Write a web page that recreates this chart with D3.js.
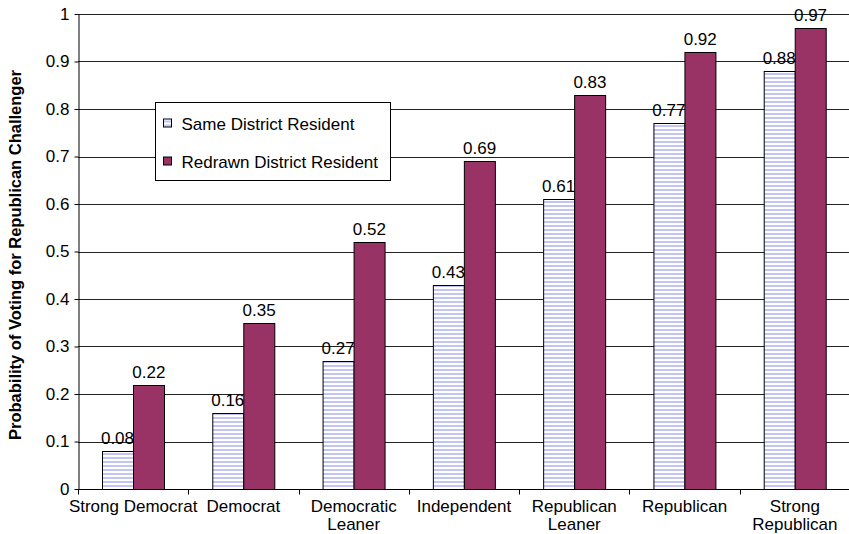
<!DOCTYPE html>
<html>
<head>
<meta charset="utf-8">
<script src="https://cdn.jsdelivr.net/npm/d3@7"></script>
<style>
  body { margin: 0; background: #fff; }
  svg { font-family: "Liberation Sans", Arial, sans-serif; }
</style>
</head>
<body>
<div id="chart"></div>
<script>
const categories = [["Strong Democrat"], ["Democrat"], ["Democratic", "Leaner"], ["Independent"],
  ["Republican", "Leaner"], ["Republican"], ["Strong", "Republican"]];
const sameDistrict = [0.08, 0.16, 0.27, 0.43, 0.61, 0.77, 0.88];
const redrawnDistrict = [0.22, 0.35, 0.52, 0.69, 0.83, 0.92, 0.97];
const seriesNames = ["Same District Resident", "Redrawn District Resident"];
const yTicks = [0, 0.1, 0.2, 0.3, 0.4, 0.5, 0.6, 0.7, 0.8, 0.9, 1];

const width = 849, height = 534;
const margin = { top: 14, right: -1, bottom: 45, left: 78 };
const fontSize = 17;

const svg = d3.select("#chart").append("svg")
  .attr("width", width).attr("height", height);

// striped fill for the first series
const defs = svg.append("defs");
const pat = defs.append("pattern")
  .attr("id", "stripes").attr("patternUnits", "userSpaceOnUse")
  .attr("width", 8).attr("height", 4);
pat.append("rect").attr("width", 8).attr("height", 4).attr("fill", "#fff");
pat.append("rect").attr("y", 1).attr("width", 8).attr("height", 2).attr("fill", "#c2c4f6");

const x = d3.scaleBand()
  .domain(d3.range(categories.length))
  .range([margin.left, width - margin.right]);

const x1 = d3.scaleBand()
  .domain([0, 1])
  .range([0, x.bandwidth()])
  .paddingInner(0)
  .paddingOuter(0.76);

const y = d3.scaleLinear().domain([0, 1]).range([height - margin.bottom, margin.top]);

// gridlines
svg.append("g").selectAll("line")
  .data(yTicks.slice(1))
  .join("line")
  .attr("x1", margin.left).attr("x2", width)
  .attr("y1", d => Math.round(y(d)) + 0.5).attr("y2", d => Math.round(y(d)) + 0.5)
  .attr("stroke", "#222").attr("stroke-width", 1);

// y axis
const yAxis = svg.append("g")
  .attr("transform", `translate(${margin.left + 0.5},0)`)
  .call(d3.axisLeft(y).tickValues(yTicks).tickFormat(d3.format("")).tickSize(4).tickSizeOuter(0));
yAxis.select(".domain").attr("stroke", "#000");
yAxis.selectAll(".tick line").attr("stroke", "#000");
yAxis.selectAll(".tick text").attr("font-size", fontSize).attr("fill", "#000")
  .attr("font-family", "Liberation Sans, Arial, sans-serif").attr("dx", -2);

// bars
const data = categories.map((c, i) => [sameDistrict[i], redrawnDistrict[i]]);
const groups = svg.append("g").selectAll("g")
  .data(data)
  .join("g")
  .attr("transform", (d, i) => `translate(${x(i)},0)`);

groups.selectAll("rect")
  .data(d => d)
  .join("rect")
  .attr("x", (d, j) => Math.round(x1(j)) + 0.5)
  .attr("y", d => Math.round(y(d)) + 0.5)
  .attr("width", Math.round(x1.bandwidth()))
  .attr("height", d => Math.round(y(0)) - Math.round(y(d)))
  .attr("fill", (d, j) => j === 0 ? "url(#stripes)" : "#993366")
  .attr("stroke", "#000").attr("stroke-width", 1);

groups.selectAll("text.val")
  .data(d => d)
  .join("text")
  .attr("class", "val")
  .attr("x", (d, j) => x1(j) + x1.bandwidth() / 2)
  .attr("y", d => y(d) - 7)
  .attr("text-anchor", "middle")
  .attr("font-size", fontSize)
  .text(d => d3.format(".2f")(d));

// x axis
const xAxisY = Math.round(y(0)) + 0.5;
svg.append("line")
  .attr("x1", margin.left).attr("x2", width)
  .attr("y1", xAxisY).attr("y2", xAxisY).attr("stroke", "#000");
svg.append("g").selectAll("line")
  .data(d3.range(categories.length))
  .join("line")
  .attr("x1", i => Math.round(x(i)) + 0.5).attr("x2", i => Math.round(x(i)) + 0.5)
  .attr("y1", xAxisY).attr("y2", xAxisY + 5).attr("stroke", "#000");

svg.append("g").selectAll("text")
  .data(categories)
  .join("text")
  .attr("x", (d, i) => x(i) + x.bandwidth() / 2)
  .attr("y", 512)
  .attr("text-anchor", "middle")
  .attr("font-size", fontSize)
  .selectAll("tspan")
  .data(d => d)
  .join("tspan")
  .attr("x", function () { return d3.select(this.parentNode).attr("x"); })
  .attr("dy", (d, k) => k === 0 ? 0 : 18)
  .text(d => d);

// y title
svg.append("text")
  .attr("transform", `translate(21,255) rotate(-90)`)
  .attr("text-anchor", "middle")
  .attr("font-size", 16.5)
  .attr("font-weight", "bold")
  .text("Probability of Voting for Republican Challenger");

// legend
const legend = svg.append("g").attr("transform", "translate(155.5,102.5)");
legend.append("rect")
  .attr("width", 235).attr("height", 78)
  .attr("fill", "#fff").attr("stroke", "#000");
const items = legend.selectAll("g")
  .data(seriesNames)
  .join("g")
  .attr("transform", (d, i) => `translate(8,${21 + i * 38})`);
items.append("rect")
  .attr("x", 0).attr("y", -4.5).attr("width", 8).attr("height", 8)
  .attr("fill", (d, i) => i === 0 ? "url(#stripes)" : "#993366")
  .attr("stroke", "#000");
items.append("text")
  .attr("x", 18).attr("y", 6)
  .attr("font-size", fontSize)
  .text(d => d);
</script>
</body>
</html>
